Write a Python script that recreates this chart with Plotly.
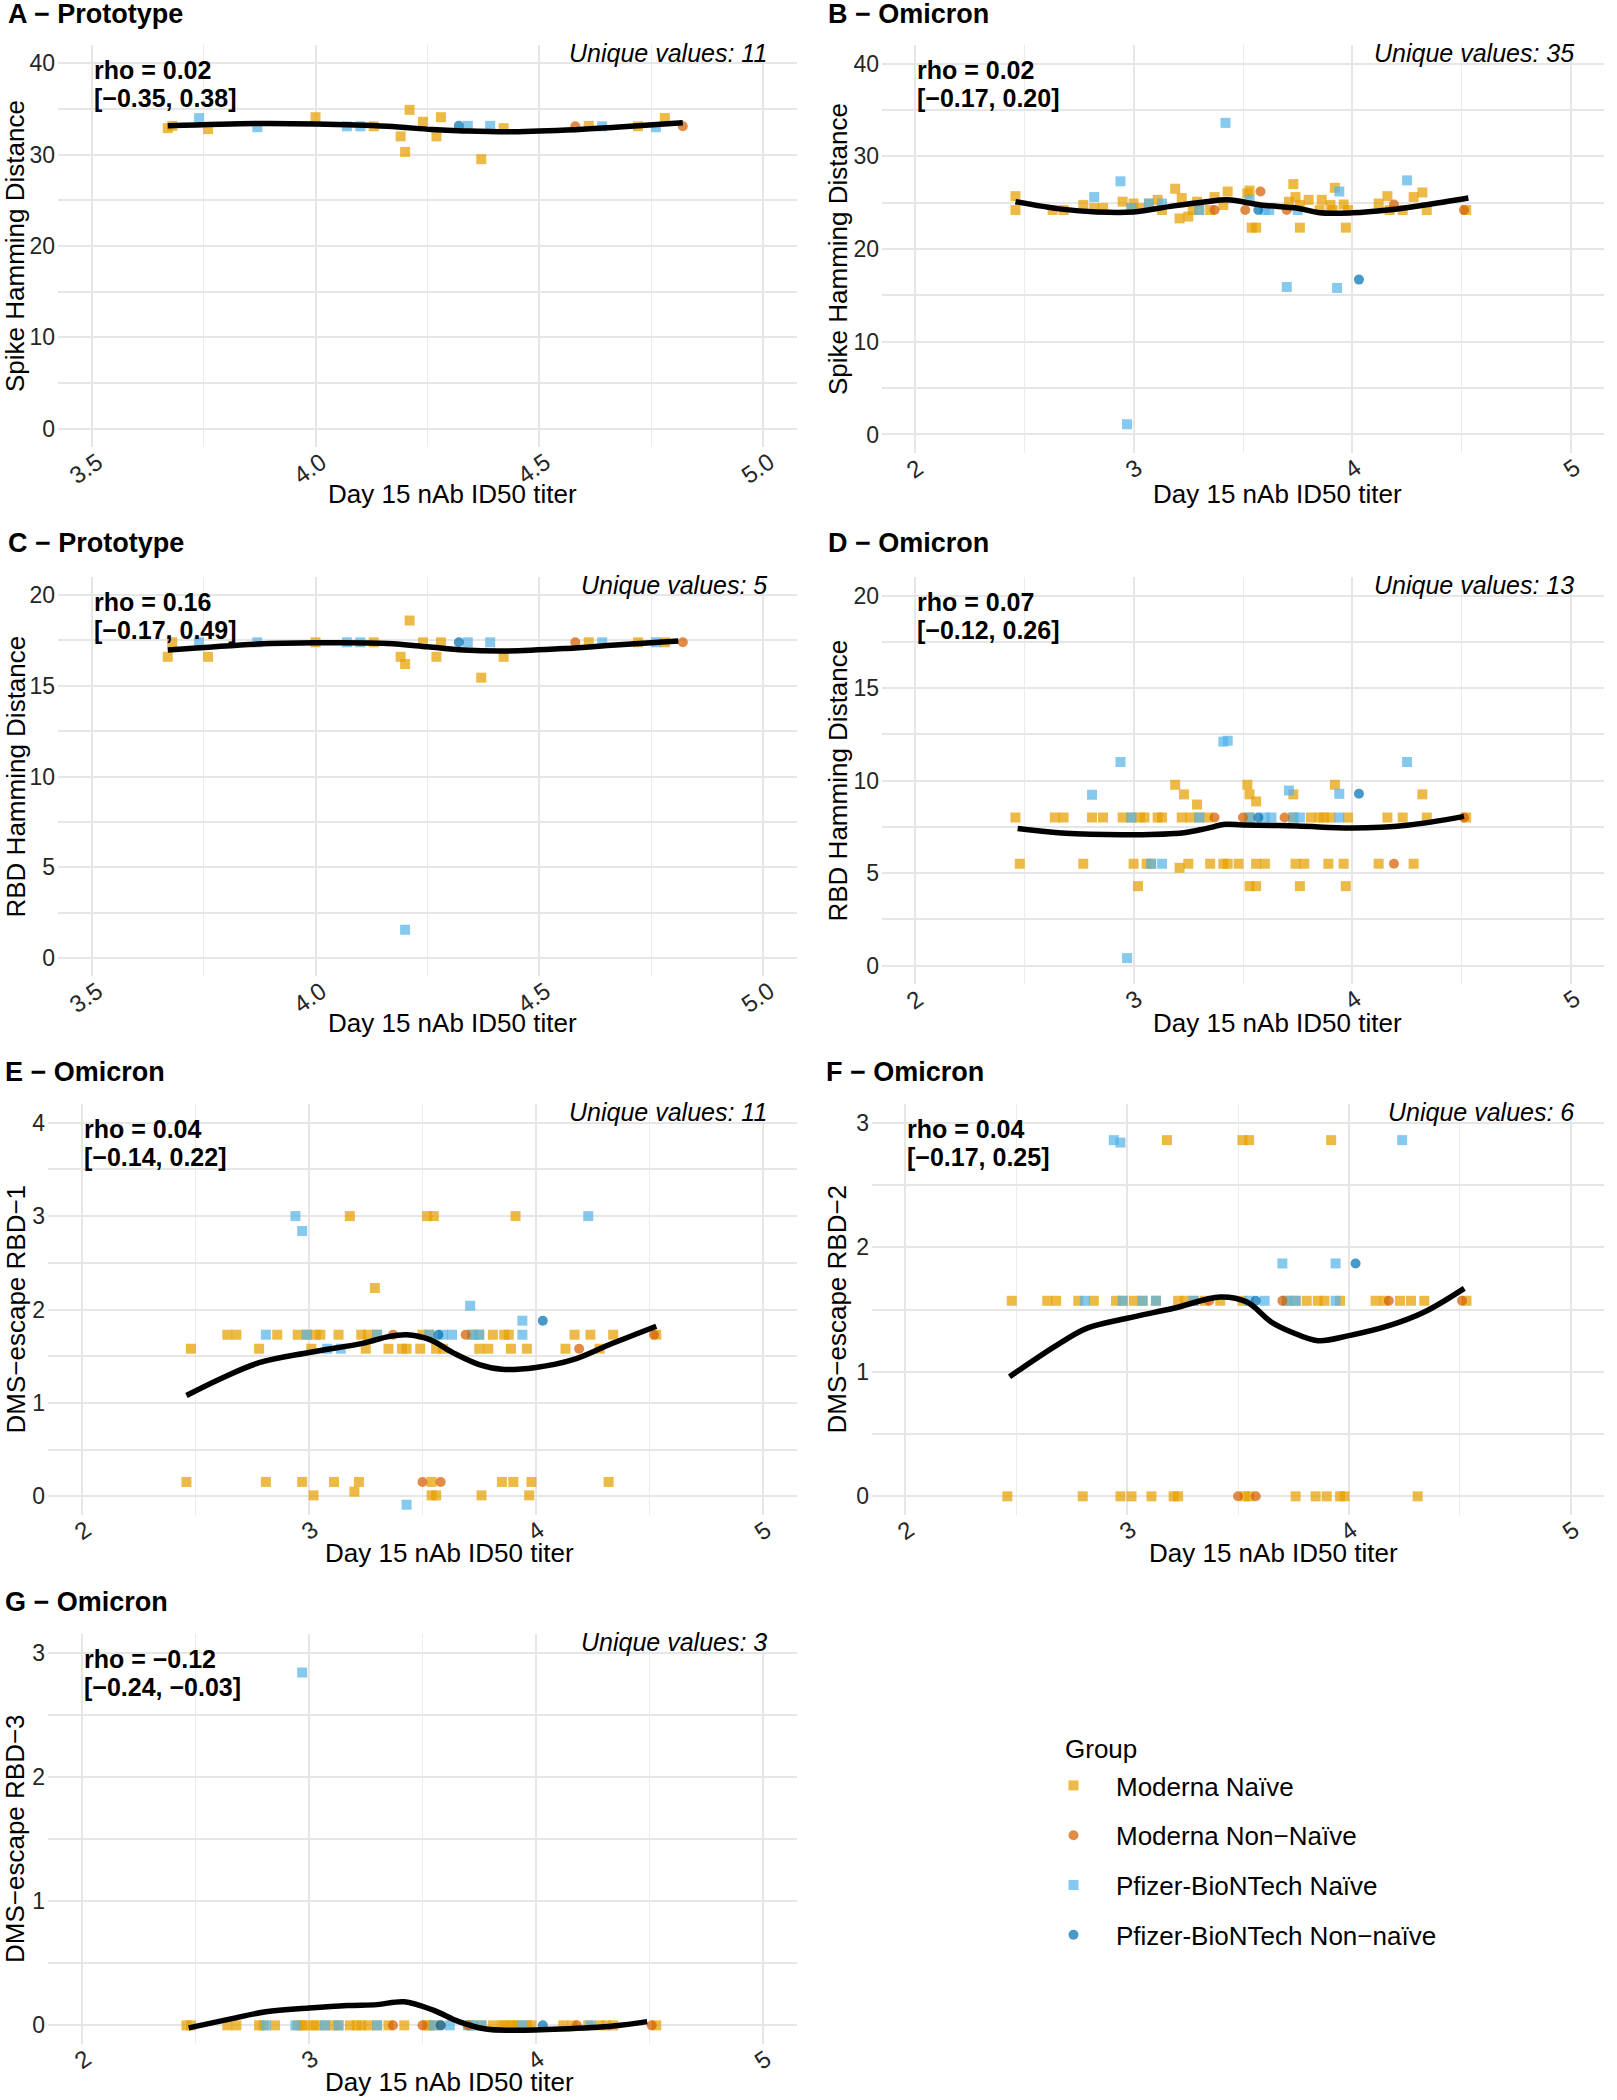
import plotly.graph_objects as go

W, H = 1617, 2100
FONT = "Liberation Sans, Arial, Helvetica, sans-serif"
GRID = "#E6E6E6"

# ---------------- groups ----------------
group_codes = ["M", "MX", "P", "PX"]
group_names = ["Moderna Naïve", "Moderna Non−Naïve", "Pfizer-BioNTech Naïve", "Pfizer-BioNTech Non−naïve"]
group_colors = ["#E69F00", "#D55E00", "#56B4E9", "#0072B2"]
group_symbols = ["square", "circle", "square", "circle"]
draw_order = ["M", "P", "MX", "PX"]

# ---------------- tick labels ----------------
proto_xticks = [3.5, 4.0, 4.5, 5.0]
proto_xticklabels = ["3.5", "4.0", "4.5", "5.0"]
omi_xticks = [2, 3, 4, 5]
omi_xticklabels = ["2", "3", "4", "5"]

# ---------------- Panel A: Prototype, Spike ----------------
a_M_x = [3.67, 3.68, 3.76, 4.00, 4.13, 4.19, 4.20, 4.21, 4.24, 4.27, 4.28, 4.37, 4.42, 4.61, 4.72, 4.78]
a_M_y = [32.9, 33.15, 32.8, 34.1, 33.1, 32.0, 30.3, 34.9, 33.6, 32.0, 34.1, 29.5, 32.9, 33.15, 33.1, 34.0]
a_P_x = [3.74, 3.87, 4.07, 4.10, 4.34, 4.39, 4.64, 4.76]
a_P_y = [34.0, 33.0, 33.1, 33.1, 33.15, 33.15, 33.1, 33.0]
a_MX_x = [4.58, 4.82]
a_MX_y = [33.1, 33.1]
a_PX_x = [4.32]
a_PX_y = [33.15]
a_fit_x = [3.67, 3.87, 4.00, 4.16, 4.26, 4.33, 4.43, 4.56, 4.67, 4.82]
a_fit_y = [33.15, 33.4, 33.35, 33.1, 32.75, 32.6, 32.5, 32.7, 33.0, 33.5]

# ---------------- Panel B: Omicron, Spike ----------------
b_M_x = [2.46, 2.46, 2.63, 2.68, 2.77, 2.82, 2.86, 2.95, 2.99, 3.00,
         3.03, 3.07, 3.11, 3.13, 3.19, 3.22, 3.21, 3.25, 3.27, 3.29,
         3.30, 3.35, 3.37, 3.41, 3.43, 3.52, 3.53, 3.54, 3.56, 3.71,
         3.73, 3.74, 3.76, 3.76, 3.80, 3.85, 3.86, 3.90, 3.91, 3.92,
         3.96, 3.97, 3.98, 4.12, 4.16, 4.17, 4.23, 4.28, 4.32, 4.34, 4.52]
b_M_y = [25.7, 24.2, 24.2, 24.2, 24.75, 24.4, 24.4, 25.1, 24.4, 24.9,
         24.4, 24.9, 25.3, 24.2, 26.5, 25.5, 23.3, 23.5, 24.2, 25.1,
         24.2, 24.2, 25.6, 24.75, 26.2, 26.0, 26.3, 22.3, 22.3, 25.1,
         27.0, 25.6, 22.3, 24.75, 25.3, 24.2, 25.3, 24.75, 24.2, 26.6,
         24.8, 22.3, 24.2, 24.9, 25.7, 24.2, 24.2, 25.6, 26.1, 24.2, 24.2]
b_P_x = [2.82, 2.94, 2.99, 3.07, 3.13, 3.30, 3.53, 3.60, 3.62, 3.75, 3.94, 4.25, 3.42, 2.97, 3.70, 3.93]
b_P_y = [25.6, 27.3, 24.4, 24.9, 24.9, 24.2, 25.3, 24.2, 24.2, 24.2, 26.2, 27.4, 33.6, 1.1, 15.9, 15.8]
b_MX_x = [3.37, 3.51, 3.58, 3.70, 4.19, 4.51]
b_MX_y = [24.2, 24.2, 26.2, 24.2, 24.8, 24.2]
b_PX_x = [3.57, 4.03]
b_PX_y = [24.2, 16.7]
b_fit_x = [2.46, 2.67, 2.83, 3.00, 3.17, 3.33, 3.43, 3.58, 3.75, 3.85, 4.00, 4.16, 4.33, 4.53]
b_fit_y = [25.1, 24.3, 24.0, 24.0, 24.6, 25.1, 25.3, 24.75, 24.4, 23.9, 23.9, 24.2, 24.75, 25.5]

# ---------------- Panel C: Prototype, RBD ----------------
c_M_x = [3.67, 3.68, 3.76, 4.00, 4.13, 4.19, 4.20, 4.21, 4.24, 4.27, 4.28, 4.37, 4.42, 4.61, 4.72, 4.78]
c_M_y = [16.6, 17.4, 16.6, 17.4, 17.4, 16.6, 16.2, 18.6, 17.4, 16.6, 17.4, 15.45, 16.6, 17.4, 17.4, 17.4]
c_P_x = [3.74, 3.87, 4.07, 4.10, 4.20, 4.34, 4.39, 4.64, 4.76]
c_P_y = [17.4, 17.4, 17.4, 17.4, 1.55, 17.4, 17.4, 17.4, 17.4]
c_MX_x = [4.58, 4.82]
c_MX_y = [17.4, 17.4]
c_PX_x = [4.32]
c_PX_y = [17.4]
c_fit_x = [3.67, 3.87, 4.00, 4.16, 4.25, 4.33, 4.43, 4.56, 4.67, 4.81]
c_fit_y = [16.97, 17.3, 17.37, 17.34, 17.15, 16.97, 16.92, 17.06, 17.25, 17.47]

# ---------------- Panel D: Omicron, RBD ----------------
d_M_x = [3.19, 3.23, 3.29, 3.52, 3.53, 3.56, 3.73, 3.92, 4.32,
         2.46, 2.64, 2.68, 2.81, 2.86, 2.95, 2.99, 3.03, 3.05, 3.11,
         3.13, 3.22, 3.26, 3.30, 3.34, 3.53, 3.73, 3.81, 3.85, 3.87,
         3.90, 3.98, 4.16, 4.23, 4.34, 4.52,
         2.48, 2.77, 3.00, 3.06, 3.08, 3.25, 3.35, 3.41, 3.43, 3.48,
         3.56, 3.60, 3.74, 3.78, 3.89, 3.96, 4.12, 4.28, 3.21,
         3.02, 3.53, 3.56, 3.76, 3.97]
d_M_y = [9.77, 9.25, 8.7, 9.77, 9.25, 8.87, 9.25, 9.77, 9.25,
         8.0, 8.0, 8.0, 8.0, 8.0, 8.0, 8.0, 8.0, 8.0, 8.0,
         8.0, 8.0, 8.0, 8.0, 8.0, 8.0, 8.0, 8.0, 8.0, 8.0,
         8.0, 8.0, 8.0, 8.0, 8.0, 8.0,
         5.5, 5.5, 5.5, 5.5, 5.5, 5.5, 5.5, 5.5, 5.5, 5.5,
         5.5, 5.5, 5.5, 5.5, 5.5, 5.5, 5.5, 5.5, 5.28,
         4.29, 4.29, 4.29, 4.29, 4.29]
d_P_x = [3.41, 3.43, 2.94, 4.25, 3.71, 3.94, 2.81,
         2.99, 3.30, 3.53, 3.60, 3.63, 3.73, 3.76, 3.94,
         3.08, 3.13, 2.97]
d_P_y = [12.1, 12.15, 11.0, 11.0, 9.46, 9.28, 9.23,
         8.0, 8.0, 8.0, 8.0, 8.0, 8.0, 8.0, 8.0,
         5.5, 5.5, 0.4]
d_MX_x = [3.37, 3.50, 3.69, 4.51, 4.19]
d_MX_y = [8.0, 8.0, 8.0, 8.0, 5.5]
d_PX_x = [4.03, 3.57]
d_PX_y = [9.28, 8.0]
d_fit_x = [2.47, 2.67, 3.00, 3.23, 3.33, 3.42, 3.50, 3.75, 4.00, 4.25, 4.51]
d_fit_y = [7.4, 7.16, 7.07, 7.18, 7.4, 7.63, 7.6, 7.54, 7.43, 7.58, 8.06]

# ---------------- Panel E: Omicron, DMS-escape RBD-1 ----------------
e_M_x = [3.29,
         2.64, 2.68, 2.86, 2.95, 2.99, 3.03, 3.05, 3.13, 3.23, 3.26,
         3.30, 3.50, 3.53, 3.72, 3.75, 3.81, 3.86, 3.88, 4.17, 4.24,
         4.34, 4.53,
         2.48, 2.78, 3.01, 3.25, 3.35, 3.41, 3.43, 3.49, 3.56, 3.59,
         3.75, 3.79, 3.89, 3.96, 4.13, 4.28,
         2.46, 2.81, 2.97, 3.11, 3.22, 3.54, 3.85, 3.90, 3.98, 4.32,
         3.02, 3.54, 3.56, 3.76, 3.97, 3.20,
         3.18, 3.52, 3.55, 3.91]
e_M_y = [2.23,
         1.73, 1.73, 1.73, 1.73, 1.73, 1.73, 1.73, 1.73, 1.73, 1.73,
         1.73, 1.73, 1.73, 1.73, 1.73, 1.73, 1.73, 1.73, 1.73, 1.73,
         1.73, 1.73,
         1.58, 1.58, 1.58, 1.58, 1.58, 1.58, 1.58, 1.58, 1.58, 1.58,
         1.58, 1.58, 1.58, 1.58, 1.58, 1.58,
         0.154, 0.154, 0.154, 0.154, 0.154, 0.154, 0.154, 0.154, 0.154, 0.154,
         0.01, 0.01, 0.01, 0.01, 0.01, 0.05,
         3.0, 3.0, 3.0, 3.0]
e_P_x = [3.71, 3.94,
         2.81, 2.99, 3.30, 3.53, 3.59, 3.63, 3.72, 3.75, 3.94,
         3.08, 3.14, 3.43, 2.94, 4.23, 2.97]
e_P_y = [2.04, 1.88,
         1.73, 1.73, 1.73, 1.73, 1.73, 1.73, 1.73, 1.73, 1.73,
         1.58, 1.58, -0.09, 3.0, 3.0, 2.84]
e_MX_x = [3.37, 3.69, 4.52, 4.19, 3.50, 3.58]
e_MX_y = [1.73, 1.73, 1.73, 1.58, 0.154, 0.154]
e_PX_x = [4.03, 3.57]
e_PX_y = [1.88, 1.73]
e_fit_x = [2.46, 2.62, 2.78, 3.00, 3.24, 3.35, 3.43, 3.53, 3.64, 3.75, 3.85, 4.00, 4.16, 4.32, 4.53]
e_fit_y = [1.08, 1.27, 1.43, 1.54, 1.64, 1.71, 1.73, 1.68, 1.53, 1.41, 1.36, 1.38, 1.46, 1.62, 1.82]

# ---------------- Panel F: Omicron, DMS-escape RBD-2 ----------------
f_M_x = [2.48, 2.64, 2.68, 2.78, 2.85, 2.95, 2.98, 3.03, 3.07, 3.13,
         3.23, 3.26, 3.30, 3.35, 3.42, 3.52, 3.72, 3.76, 3.81, 3.86,
         3.89, 3.96, 4.12, 4.16, 4.23, 4.28, 4.34, 4.53,
         3.18, 3.52, 3.55, 3.92,
         2.46, 2.80, 2.97, 3.02, 3.11, 3.21, 3.23, 3.53, 3.55, 3.76,
         3.85, 3.90, 3.96, 3.98, 4.31]
f_M_y = [1.57, 1.57, 1.57, 1.57, 1.57, 1.57, 1.57, 1.57, 1.57, 1.57,
         1.57, 1.57, 1.57, 1.57, 1.57, 1.57, 1.57, 1.57, 1.57, 1.57,
         1.57, 1.57, 1.57, 1.57, 1.57, 1.57, 1.57, 1.57,
         2.86, 2.86, 2.86, 2.86,
         0.0, 0.0, 0.0, 0.0, 0.0, 0.0, 0.0, 0.0, 0.0, 0.0,
         0.0, 0.0, 0.0, 0.0, 0.0]
f_P_x = [2.81, 2.98, 3.07, 3.13, 3.30, 3.55, 3.62, 3.72, 3.76, 3.94,
         2.94, 2.97, 4.24, 3.70, 3.94]
f_P_y = [1.57, 1.57, 1.57, 1.57, 1.57, 1.57, 1.57, 1.57, 1.57, 1.57,
         2.86, 2.84, 2.86, 1.87, 1.87]
f_MX_x = [3.37, 3.70, 4.18, 4.51, 3.50, 3.58]
f_MX_y = [1.57, 1.57, 1.57, 1.57, 0.0, 0.0]
f_PX_x = [3.58, 4.03]
f_PX_y = [1.57, 1.87]
f_fit_x = [2.47, 2.68, 2.82, 3.00, 3.21, 3.42, 3.54, 3.65, 3.74, 3.86, 4.00, 4.18, 4.34, 4.52]
f_fit_y = [0.96, 1.21, 1.35, 1.43, 1.51, 1.60, 1.56, 1.40, 1.32, 1.25, 1.29, 1.37, 1.48, 1.67]

# ---------------- Panel G: Omicron, DMS-escape RBD-3 ----------------
g_M_x = [2.46, 2.48, 2.64, 2.68, 2.78, 2.80, 2.85, 2.95, 2.97, 2.98,
         3.02, 3.03, 3.07, 3.11, 3.13, 3.18, 3.21, 3.23, 3.26, 3.30,
         3.35, 3.42, 3.52, 3.53, 3.55, 3.72, 3.76, 3.81, 3.85, 3.86,
         3.89, 3.90, 3.92, 3.96, 3.98, 4.12, 4.16, 4.23, 4.28, 4.31,
         4.34, 4.53]
g_M_y = [0.0, 0.0, 0.0, 0.0, 0.0, 0.0, 0.0, 0.0, 0.0, 0.0,
         0.0, 0.0, 0.0, 0.0, 0.0, 0.0, 0.0, 0.0, 0.0, 0.0,
         0.0, 0.0, 0.0, 0.0, 0.0, 0.0, 0.0, 0.0, 0.0, 0.0,
         0.0, 0.0, 0.0, 0.0, 0.0, 0.0, 0.0, 0.0, 0.0, 0.0,
         0.0, 0.0]
g_P_x = [2.81, 2.94, 3.07, 3.13, 3.30, 3.55, 3.62, 3.70, 3.72, 3.76, 3.94, 4.24, 2.97]
g_P_y = [0.0, 0.0, 0.0, 0.0, 0.0, 0.0, 0.0, 0.0, 0.0, 0.0, 0.0, 0.0, 2.84]
g_MX_x = [3.37, 3.50, 3.58, 3.70, 4.18, 4.51]
g_MX_y = [0.0, 0.0, 0.0, 0.0, 0.0, 0.0]
g_PX_x = [3.58, 4.03]
g_PX_y = [0.0, 0.0]
g_fit_x = [2.47, 2.65, 2.81, 3.00, 3.17, 3.30, 3.42, 3.55, 3.66, 3.78, 3.89, 4.11, 4.34, 4.49]
g_fit_y = [-0.02, 0.05, 0.11, 0.14, 0.16, 0.167, 0.19, 0.12, 0.03, -0.03, -0.04, -0.03, -0.005, 0.03]

# ---------------- panel text ----------------
panel_titles = ["A − Prototype", "B − Omicron", "C − Prototype", "D − Omicron",
                "E − Omicron", "F − Omicron", "G − Omicron"]
panel_ylabels = ["Spike Hamming Distance", "Spike Hamming Distance", "RBD Hamming Distance",
                 "RBD Hamming Distance", "DMS−escape RBD−1", "DMS−escape RBD−2", "DMS−escape RBD−3"]
panel_rho = ["rho = 0.02", "rho = 0.02", "rho = 0.16", "rho = 0.07", "rho = 0.04", "rho = 0.04", "rho = −0.12"]
panel_ci = ["[−0.35, 0.38]", "[−0.17, 0.20]", "[−0.17, 0.49]", "[−0.12, 0.26]",
            "[−0.14, 0.22]", "[−0.17, 0.25]", "[−0.24, −0.03]"]
panel_unique = [11, 35, 5, 13, 11, 6, 3]
legend_title = "Group"

panel_data = [
    {"M": (a_M_x, a_M_y), "P": (a_P_x, a_P_y), "MX": (a_MX_x, a_MX_y), "PX": (a_PX_x, a_PX_y)},
    {"M": (b_M_x, b_M_y), "P": (b_P_x, b_P_y), "MX": (b_MX_x, b_MX_y), "PX": (b_PX_x, b_PX_y)},
    {"M": (c_M_x, c_M_y), "P": (c_P_x, c_P_y), "MX": (c_MX_x, c_MX_y), "PX": (c_PX_x, c_PX_y)},
    {"M": (d_M_x, d_M_y), "P": (d_P_x, d_P_y), "MX": (d_MX_x, d_MX_y), "PX": (d_PX_x, d_PX_y)},
    {"M": (e_M_x, e_M_y), "P": (e_P_x, e_P_y), "MX": (e_MX_x, e_MX_y), "PX": (e_PX_x, e_PX_y)},
    {"M": (f_M_x, f_M_y), "P": (f_P_x, f_P_y), "MX": (f_MX_x, f_MX_y), "PX": (f_PX_x, f_PX_y)},
    {"M": (g_M_x, g_M_y), "P": (g_P_x, g_P_y), "MX": (g_MX_x, g_MX_y), "PX": (g_PX_x, g_PX_y)},
]
panel_fit = [(a_fit_x, a_fit_y), (b_fit_x, b_fit_y), (c_fit_x, c_fit_y), (d_fit_x, d_fit_y),
             (e_fit_x, e_fit_y), (f_fit_x, f_fit_y), (g_fit_x, g_fit_y)]

# ---------------- layout geometry (pixels) ----------------
boxes = [(58, 797, 45, 447), (882, 1604, 45, 453),
         (58, 797, 577, 976), (882, 1604, 577, 984),
         (48, 797, 1104, 1515), (872, 1604, 1104, 1515),
         (48, 797, 1634, 2044)]
xranges = [[3.425, 5.075], [1.85, 5.15], [3.425, 5.075], [1.85, 5.15], [1.85, 5.15], [1.85, 5.15], [1.85, 5.15]]
xdticks = [(0.5, 0.25), (1, 0.5), (0.5, 0.25), (1, 0.5), (1, 0.5), (1, 0.5), (1, 0.5)]
yranges = [[-2, 42], [-2, 42], [-1, 21], [-1, 21], [-0.2, 4.2], [-0.15, 3.15], [-0.15, 3.15]]
ydticks = [(10, 5), (10, 5), (5, 2.5), (5, 2.5), (1, 0.5), (1, 0.5), (1, 0.5)]
title_pos = [(6, 14), (826, 14), (6, 543), (826, 543), (3, 1072), (824, 1072), (3, 1602)]
ytitle_x = [15, 838, 15, 838, 15, 836, 15]
xtitle_pos = [(452, 494), (1277, 494), (452, 1023), (1277, 1023), (449, 1553), (1273, 1553), (449, 2082)]


def px(x):
    return x / W


def py(y):
    return 1 - y / H


fig = go.Figure()
annotations = []
layout_axes = {}

for i in range(7):
    n = i + 1
    xa = "x" if n == 1 else f"x{n}"
    ya = "y" if n == 1 else f"y{n}"
    l, r, t, b = boxes[i]
    proto = xranges[i][0] > 3
    layout_axes["xaxis" if n == 1 else f"xaxis{n}"] = dict(
        domain=[px(l), px(r)], range=xranges[i], anchor=ya,
        tickmode="linear", tick0=3.5 if proto else 2, dtick=xdticks[i][0],
        showticklabels=False, ticks="", showgrid=True, gridcolor=GRID, gridwidth=1.8,
        zeroline=False, showline=False,
        minor=dict(dtick=xdticks[i][1], tick0=3.5 if proto else 2,
                   showgrid=True, gridcolor="#ECECEC", gridwidth=1.1),
    )
    layout_axes["yaxis" if n == 1 else f"yaxis{n}"] = dict(
        domain=[py(b), py(t)], range=yranges[i], anchor=xa,
        tickmode="linear", tick0=0, dtick=ydticks[i][0],
        ticks="", showgrid=True, gridcolor=GRID, gridwidth=2,
        zeroline=False, showline=False, ticklabelstandoff=2,
        tickfont=dict(family=FONT, size=23, color="#262626"),
        minor=dict(dtick=ydticks[i][1], tick0=0, showgrid=True, gridcolor=GRID, gridwidth=2),
    )

    data = panel_data[i]
    for code in draw_order:
        k = group_codes.index(code)
        xs, ys = data[code]
        fig.add_trace(go.Scatter(
            x=xs, y=ys, mode="markers", xaxis=xa, yaxis=ya,
            name=group_names[k], legendgroup=group_names[k], legendrank=k + 1,
            showlegend=(i == 0),
            marker=dict(symbol=group_symbols[k], size=10, color=group_colors[k],
                        opacity=0.72, line=dict(width=0)),
            hoverinfo="skip",
        ))
    fx, fy = panel_fit[i]
    fig.add_trace(go.Scatter(
        x=fx, y=fy, mode="lines", xaxis=xa, yaxis=ya, showlegend=False,
        line=dict(color="black", width=5.5, shape="spline", smoothing=1.0),
        hoverinfo="skip",
    ))

    # panel title
    tx, ty = title_pos[i]
    annotations.append(dict(x=px(tx), y=py(ty), xref="paper", yref="paper", xanchor="left",
                            yanchor="middle", showarrow=False, text=f"<b>{panel_titles[i]}</b>",
                            font=dict(family=FONT, size=27, color="black")))
    # rho lines
    xmin_tick = 3.5 if proto else 2
    dom_y = f"{ya} domain"
    annotations.append(dict(x=xmin_tick, xref=xa, y=1, yref=dom_y, xanchor="left", yanchor="middle",
                            yshift=-25, showarrow=False, text=f"<b>{panel_rho[i]}</b>",
                            font=dict(family=FONT, size=25, color="black")))
    annotations.append(dict(x=xmin_tick, xref=xa, y=1, yref=dom_y, xanchor="left", yanchor="middle",
                            yshift=-53, showarrow=False, text=f"<b>{panel_ci[i]}</b>",
                            font=dict(family=FONT, size=25, color="black")))
    # unique values
    annotations.append(dict(x=1, xref=f"{xa} domain", xshift=-28, y=1, yref=dom_y, xanchor="right",
                            yanchor="middle", yshift=-8, showarrow=False,
                            text=f"<i>Unique values: {panel_unique[i]}</i>",
                            font=dict(family=FONT, size=25, color="black")))
    # x tick labels (rotated)
    ticks = proto_xticks if proto else omi_xticks
    labels = proto_xticklabels if proto else omi_xticklabels
    for tv, tl in zip(ticks, labels):
        annotations.append(dict(x=tv, xref=xa, y=0, yref=dom_y, xanchor="center", yanchor="top",
                                xshift=-6 if len(tl) > 1 else 0, yshift=2, showarrow=False,
                                text=tl, textangle=-35,
                                font=dict(family=FONT, size=24, color="#262626")))
    # axis titles
    xtx, xty = xtitle_pos[i]
    annotations.append(dict(x=px(xtx), y=py(xty), xref="paper", yref="paper", xanchor="center",
                            yanchor="middle", showarrow=False, text="Day 15 nAb ID50 titer",
                            font=dict(family=FONT, size=26, color="black")))
    annotations.append(dict(x=px(ytitle_x[i]), y=py((t + b) / 2), xref="paper", yref="paper",
                            xanchor="center", yanchor="middle", showarrow=False, textangle=-90,
                            text=panel_ylabels[i], font=dict(family=FONT, size=26, color="black")))

# legend title placed as text
annotations.append(dict(x=px(1063), y=py(1749), xref="paper", yref="paper", xanchor="left",
                        yanchor="middle", showarrow=False, text=legend_title,
                        font=dict(family=FONT, size=26, color="black")))

fig.update_layout(
    width=W, height=H, autosize=False,
    margin=dict(l=0, r=0, t=0, b=0),
    paper_bgcolor="white", plot_bgcolor="white",
    font=dict(family=FONT, color="black"),
    annotations=annotations,
    showlegend=True,
    legend=dict(
        x=px(1031), y=py(1762), xanchor="left", yanchor="top",
        font=dict(family=FONT, size=26, color="black"),
        tracegroupgap=13, itemwidth=75, bgcolor="rgba(0,0,0,0)",
        traceorder="grouped",
    ),
    **layout_axes,
)

fig.write_html("out.html")
